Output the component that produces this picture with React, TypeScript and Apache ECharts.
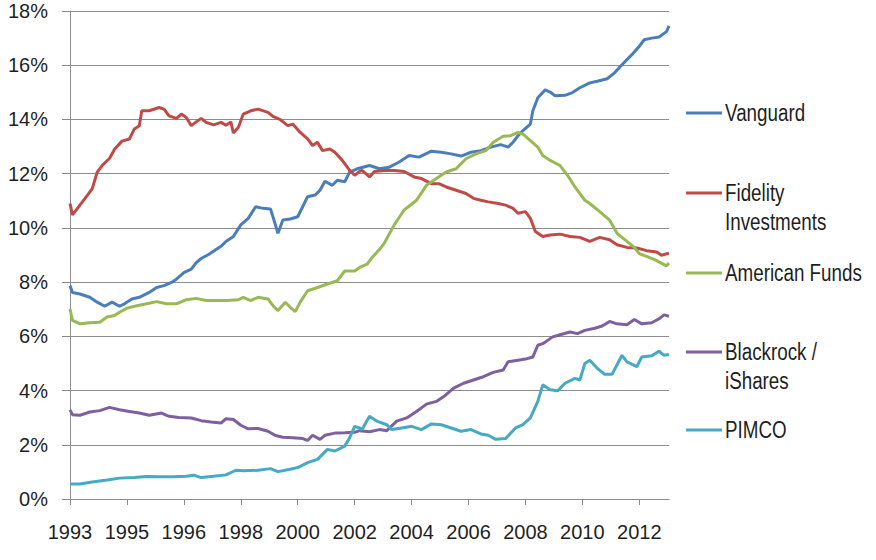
import React, { useEffect, useRef } from "react";
import * as echarts from "echarts";

// x = months since Feb 1993
const tickLabels = ["1993", "1995", "1996", "1998", "2000", "2002", "2004", "2006", "2008", "2010", "2012"];
const monthsPerTick = 23;
const lastMonth = 242;
const tickMonths = tickLabels.map((_, k) => k * monthsPerTick);
const yTicks = [0, 2, 4, 6, 8, 10, 12, 14, 16, 18];

const seriesNames = ["Vanguard", "Fidelity Investments", "American Funds", "Blackrock / iShares", "PIMCO"];
const legendLabels = ["Vanguard", "Fidelity\nInvestments", "American Funds", "Blackrock /\niShares", "PIMCO"];
const colors = ["#4A7EBB", "#BE4B48", "#98B954", "#7D60A0", "#46AAC5"];

const vanguard: [number, number][] = [
  [0, 7.87], [1, 7.62], [4, 7.56], [8, 7.44], [11, 7.26], [14, 7.11], [17, 7.26], [20, 7.11], [22, 7.2], [25, 7.38],
  [28, 7.44], [32, 7.62], [35, 7.8], [38, 7.87], [41, 7.99], [43, 8.11], [46, 8.35], [49, 8.48], [51, 8.72], [53, 8.87],
  [56, 9.02], [59, 9.2], [61, 9.32], [63, 9.5], [66, 9.68], [69, 10.11], [72, 10.35], [75, 10.78], [78, 10.72], [81, 10.7],
  [83, 10.11], [84, 9.8], [86, 10.29], [89, 10.33], [92, 10.41], [94, 10.78], [96, 11.15], [99, 11.21], [101, 11.39],
  [103, 11.72], [106, 11.57], [108, 11.76], [111, 11.7], [113, 12.06], [116, 12.18], [121, 12.3], [125, 12.18],
  [129, 12.24], [133, 12.43], [137, 12.67], [141, 12.61], [146, 12.83], [150, 12.79], [154, 12.73], [158, 12.65],
  [162, 12.79], [166, 12.85], [170, 12.98], [174, 13.07], [177, 12.98], [179, 13.16], [181, 13.4], [183, 13.59],
  [186, 13.83], [187, 14.32], [189, 14.8], [192, 15.09], [194, 15.01], [196, 14.87], [200, 14.89], [203, 14.99],
  [206, 15.17], [210, 15.35], [213, 15.41], [217, 15.5], [220, 15.72], [223, 16.02], [227, 16.39], [230, 16.7],
  [232, 16.94], [235, 17.0], [238, 17.04], [241, 17.24], [242, 17.45],
];

const fidelity: [number, number][] = [
  [0, 10.9], [1, 10.48], [4, 10.84], [7, 11.2], [9, 11.45], [11, 12.06], [13, 12.3], [16, 12.57], [18, 12.9], [21, 13.2],
  [24, 13.28], [26, 13.65], [28, 13.77], [29, 14.32], [32, 14.32], [36, 14.44], [38, 14.38], [40, 14.13], [43, 14.04],
  [45, 14.2], [47, 14.07], [49, 13.77], [51, 13.91], [53, 14.04], [55, 13.89], [58, 13.8], [61, 13.89], [63, 13.79],
  [65, 13.91], [66, 13.5], [68, 13.7], [70, 14.2], [73, 14.32], [76, 14.38], [80, 14.26], [82, 14.11], [85, 13.99],
  [88, 13.77], [90, 13.83], [93, 13.52], [96, 13.28], [98, 13.04], [100, 13.16], [102, 12.85], [105, 12.91],
  [107, 12.79], [110, 12.49], [113, 12.12], [115, 11.94], [117, 12.08], [118, 12.12], [121, 11.88], [123, 12.08],
  [127, 12.12], [131, 12.12], [135, 12.08], [139, 11.88], [142, 11.82], [146, 11.63], [149, 11.63], [152, 11.51],
  [156, 11.39], [160, 11.27], [163, 11.09], [166, 11.02], [169, 10.96], [173, 10.9], [176, 10.84], [179, 10.72],
  [181, 10.54], [184, 10.6], [186, 10.35], [188, 9.87], [191, 9.68], [194, 9.74], [198, 9.77], [202, 9.68],
  [206, 9.65], [210, 9.5], [214, 9.65], [218, 9.56], [221, 9.38], [225, 9.28], [229, 9.26], [233, 9.16],
  [237, 9.11], [239, 8.99], [242, 9.07],
];

const americanFunds: [number, number][] = [
  [0, 7.01], [1, 6.59], [4, 6.46], [8, 6.5], [12, 6.52], [15, 6.71], [18, 6.77], [20, 6.89], [23, 7.04], [27, 7.13],
  [31, 7.2], [35, 7.28], [39, 7.2], [43, 7.2], [47, 7.35], [51, 7.4], [55, 7.32], [59, 7.32], [63, 7.32], [68, 7.35],
  [70, 7.44], [73, 7.32], [76, 7.44], [80, 7.38], [82, 7.13], [84, 6.95], [87, 7.26], [89, 7.07], [91, 6.91],
  [93, 7.26], [96, 7.68], [100, 7.8], [104, 7.93], [108, 8.05], [111, 8.41], [115, 8.41], [117, 8.54], [120, 8.66],
  [122, 8.9], [125, 9.2], [127, 9.44], [131, 10.11], [135, 10.66], [140, 11.02], [144, 11.57], [148, 11.82],
  [152, 12.06], [156, 12.18], [160, 12.55], [164, 12.73], [168, 12.85], [171, 13.16], [175, 13.38], [178, 13.4],
  [181, 13.52], [183, 13.46], [186, 13.22], [189, 12.98], [191, 12.67], [194, 12.49], [198, 12.3], [201, 11.94],
  [204, 11.51], [208, 11.02], [210, 10.9], [214, 10.6], [218, 10.29], [221, 9.8], [225, 9.5], [228, 9.28],
  [230, 9.05], [236, 8.84], [241, 8.6], [242, 8.7],
];

const blackrock: [number, number][] = [
  [0, 3.29], [1, 3.11], [4, 3.09], [8, 3.21], [12, 3.26], [16, 3.38], [20, 3.29], [24, 3.23], [28, 3.17], [32, 3.09],
  [37, 3.17], [40, 3.05], [44, 3.01], [49, 2.99], [53, 2.89], [57, 2.84], [61, 2.8], [63, 2.96], [66, 2.93], [69, 2.72],
  [72, 2.59], [76, 2.6], [80, 2.5], [83, 2.34], [86, 2.28], [90, 2.26], [94, 2.23], [96, 2.16], [98, 2.35], [101, 2.2],
  [103, 2.35], [107, 2.43], [111, 2.44], [115, 2.46], [117, 2.52], [121, 2.48], [125, 2.56], [128, 2.52], [132, 2.87],
  [136, 2.99], [140, 3.23], [144, 3.5], [148, 3.6], [151, 3.78], [155, 4.09], [159, 4.27], [163, 4.39], [167, 4.51],
  [171, 4.67], [175, 4.76], [177, 5.06], [181, 5.12], [184, 5.16], [187, 5.24], [189, 5.67], [191, 5.73], [195, 5.98],
  [198, 6.06], [202, 6.16], [205, 6.1], [208, 6.22], [212, 6.3], [215, 6.38], [218, 6.55], [221, 6.46], [225, 6.43],
  [228, 6.62], [231, 6.46], [235, 6.5], [238, 6.65], [240, 6.79], [242, 6.74],
];

const pimco: [number, number][] = [
  [0, 0.55], [4, 0.55], [9, 0.63], [15, 0.7], [20, 0.77], [26, 0.79], [31, 0.83], [36, 0.82], [42, 0.82], [47, 0.84],
  [50, 0.88], [53, 0.79], [58, 0.84], [63, 0.89], [67, 1.06], [70, 1.04], [76, 1.06], [81, 1.12], [84, 1.01], [89, 1.1],
  [92, 1.16], [96, 1.34], [100, 1.46], [104, 1.83], [107, 1.77], [111, 1.95], [113, 2.26], [115, 2.68], [117, 2.62],
  [118, 2.56], [121, 3.05], [124, 2.87], [128, 2.74], [130, 2.56], [134, 2.62], [138, 2.68], [142, 2.56], [146, 2.77],
  [150, 2.74], [154, 2.62], [158, 2.5], [162, 2.56], [166, 2.4], [169, 2.35], [172, 2.2], [176, 2.23], [180, 2.62],
  [183, 2.74], [186, 2.99], [189, 3.6], [191, 4.21], [194, 4.03], [197, 3.99], [200, 4.27], [204, 4.45], [206, 4.39],
  [208, 5.0], [210, 5.12], [213, 4.82], [216, 4.6], [219, 4.6], [223, 5.3], [225, 5.06], [229, 4.88], [231, 5.24],
  [235, 5.28], [238, 5.45], [240, 5.3], [242, 5.33],
];

const seriesData = [vanguard, fidelity, americanFunds, blackrock, pimco];

const FONT = "'Liberation Sans', Arial, sans-serif";
const TEXT_COLOR = "#1f1f1f";
const GRID_COLOR = "#8c8c8c";

// legend layout (icon center y for the first text line)
const legendY = [113, 193, 273, 352, 430];

export default function App() {
  const ref = useRef<HTMLDivElement>(null);

  useEffect(() => {
    if (!ref.current) return;
    const chart = echarts.init(ref.current, undefined, { renderer: "svg" });

    const legendGraphics: any[] = [];
    legendLabels.forEach((label, i) => {
      const y = legendY[i];
      legendGraphics.push({
        type: "line",
        shape: { x1: 686, y1: y, x2: 722, y2: y },
        style: { stroke: colors[i], lineWidth: 3 },
      });
      legendGraphics.push({
        type: "text",
        x: 725,
        y: y - 14.5,
        scaleX: 0.8,
        style: {
          text: label,
          fill: TEXT_COLOR,
          font: `23.5px ${FONT}`,
          lineHeight: 29,
          verticalAlign: "top",
          align: "left",
        },
      });
    });

    chart.setOption({
      animation: false,
      backgroundColor: "#ffffff",
      grid: { left: 70, right: 207, top: 11, bottom: 61, containLabel: false },
      xAxis: {
        type: "value",
        min: 0,
        max: lastMonth,
        axisLine: { show: true, onZero: false, lineStyle: { color: GRID_COLOR, width: 1 } },
        axisTick: { show: true, customValues: tickMonths, length: 6, lineStyle: { color: GRID_COLOR } },
        axisLabel: {
          customValues: tickMonths,
          formatter: (v: number) => tickLabels[Math.round(v / monthsPerTick)] ?? "",
          fontSize: 20,
          fontFamily: FONT,
          color: TEXT_COLOR,
          margin: 23,
        },
        splitLine: { show: false },
      },
      yAxis: {
        type: "value",
        min: yTicks[0],
        max: yTicks[yTicks.length - 1],
        interval: 2,
        axisLine: { show: true, lineStyle: { color: GRID_COLOR, width: 1 } },
        axisTick: { show: true, length: 8, lineStyle: { color: GRID_COLOR } },
        axisLabel: {
          formatter: (v: number) => `${v}%`,
          fontSize: 20,
          fontFamily: FONT,
          color: TEXT_COLOR,
          margin: 22,
        },
        splitLine: { show: true, lineStyle: { color: GRID_COLOR, width: 1 } },
      },
      series: seriesNames.map((name, i) => ({
        name,
        type: "line",
        data: seriesData[i],
        showSymbol: false,
        symbol: "none",
        lineStyle: { color: colors[i], width: 3 },
        itemStyle: { color: colors[i] },
      })),
      graphic: legendGraphics,
    });

    return () => chart.dispose();
  }, []);

  return (
    <div
      ref={ref}
      style={{ position: "fixed", left: 0, top: 0, width: 876, height: 560, background: "#fff" }}
    />
  );
}
